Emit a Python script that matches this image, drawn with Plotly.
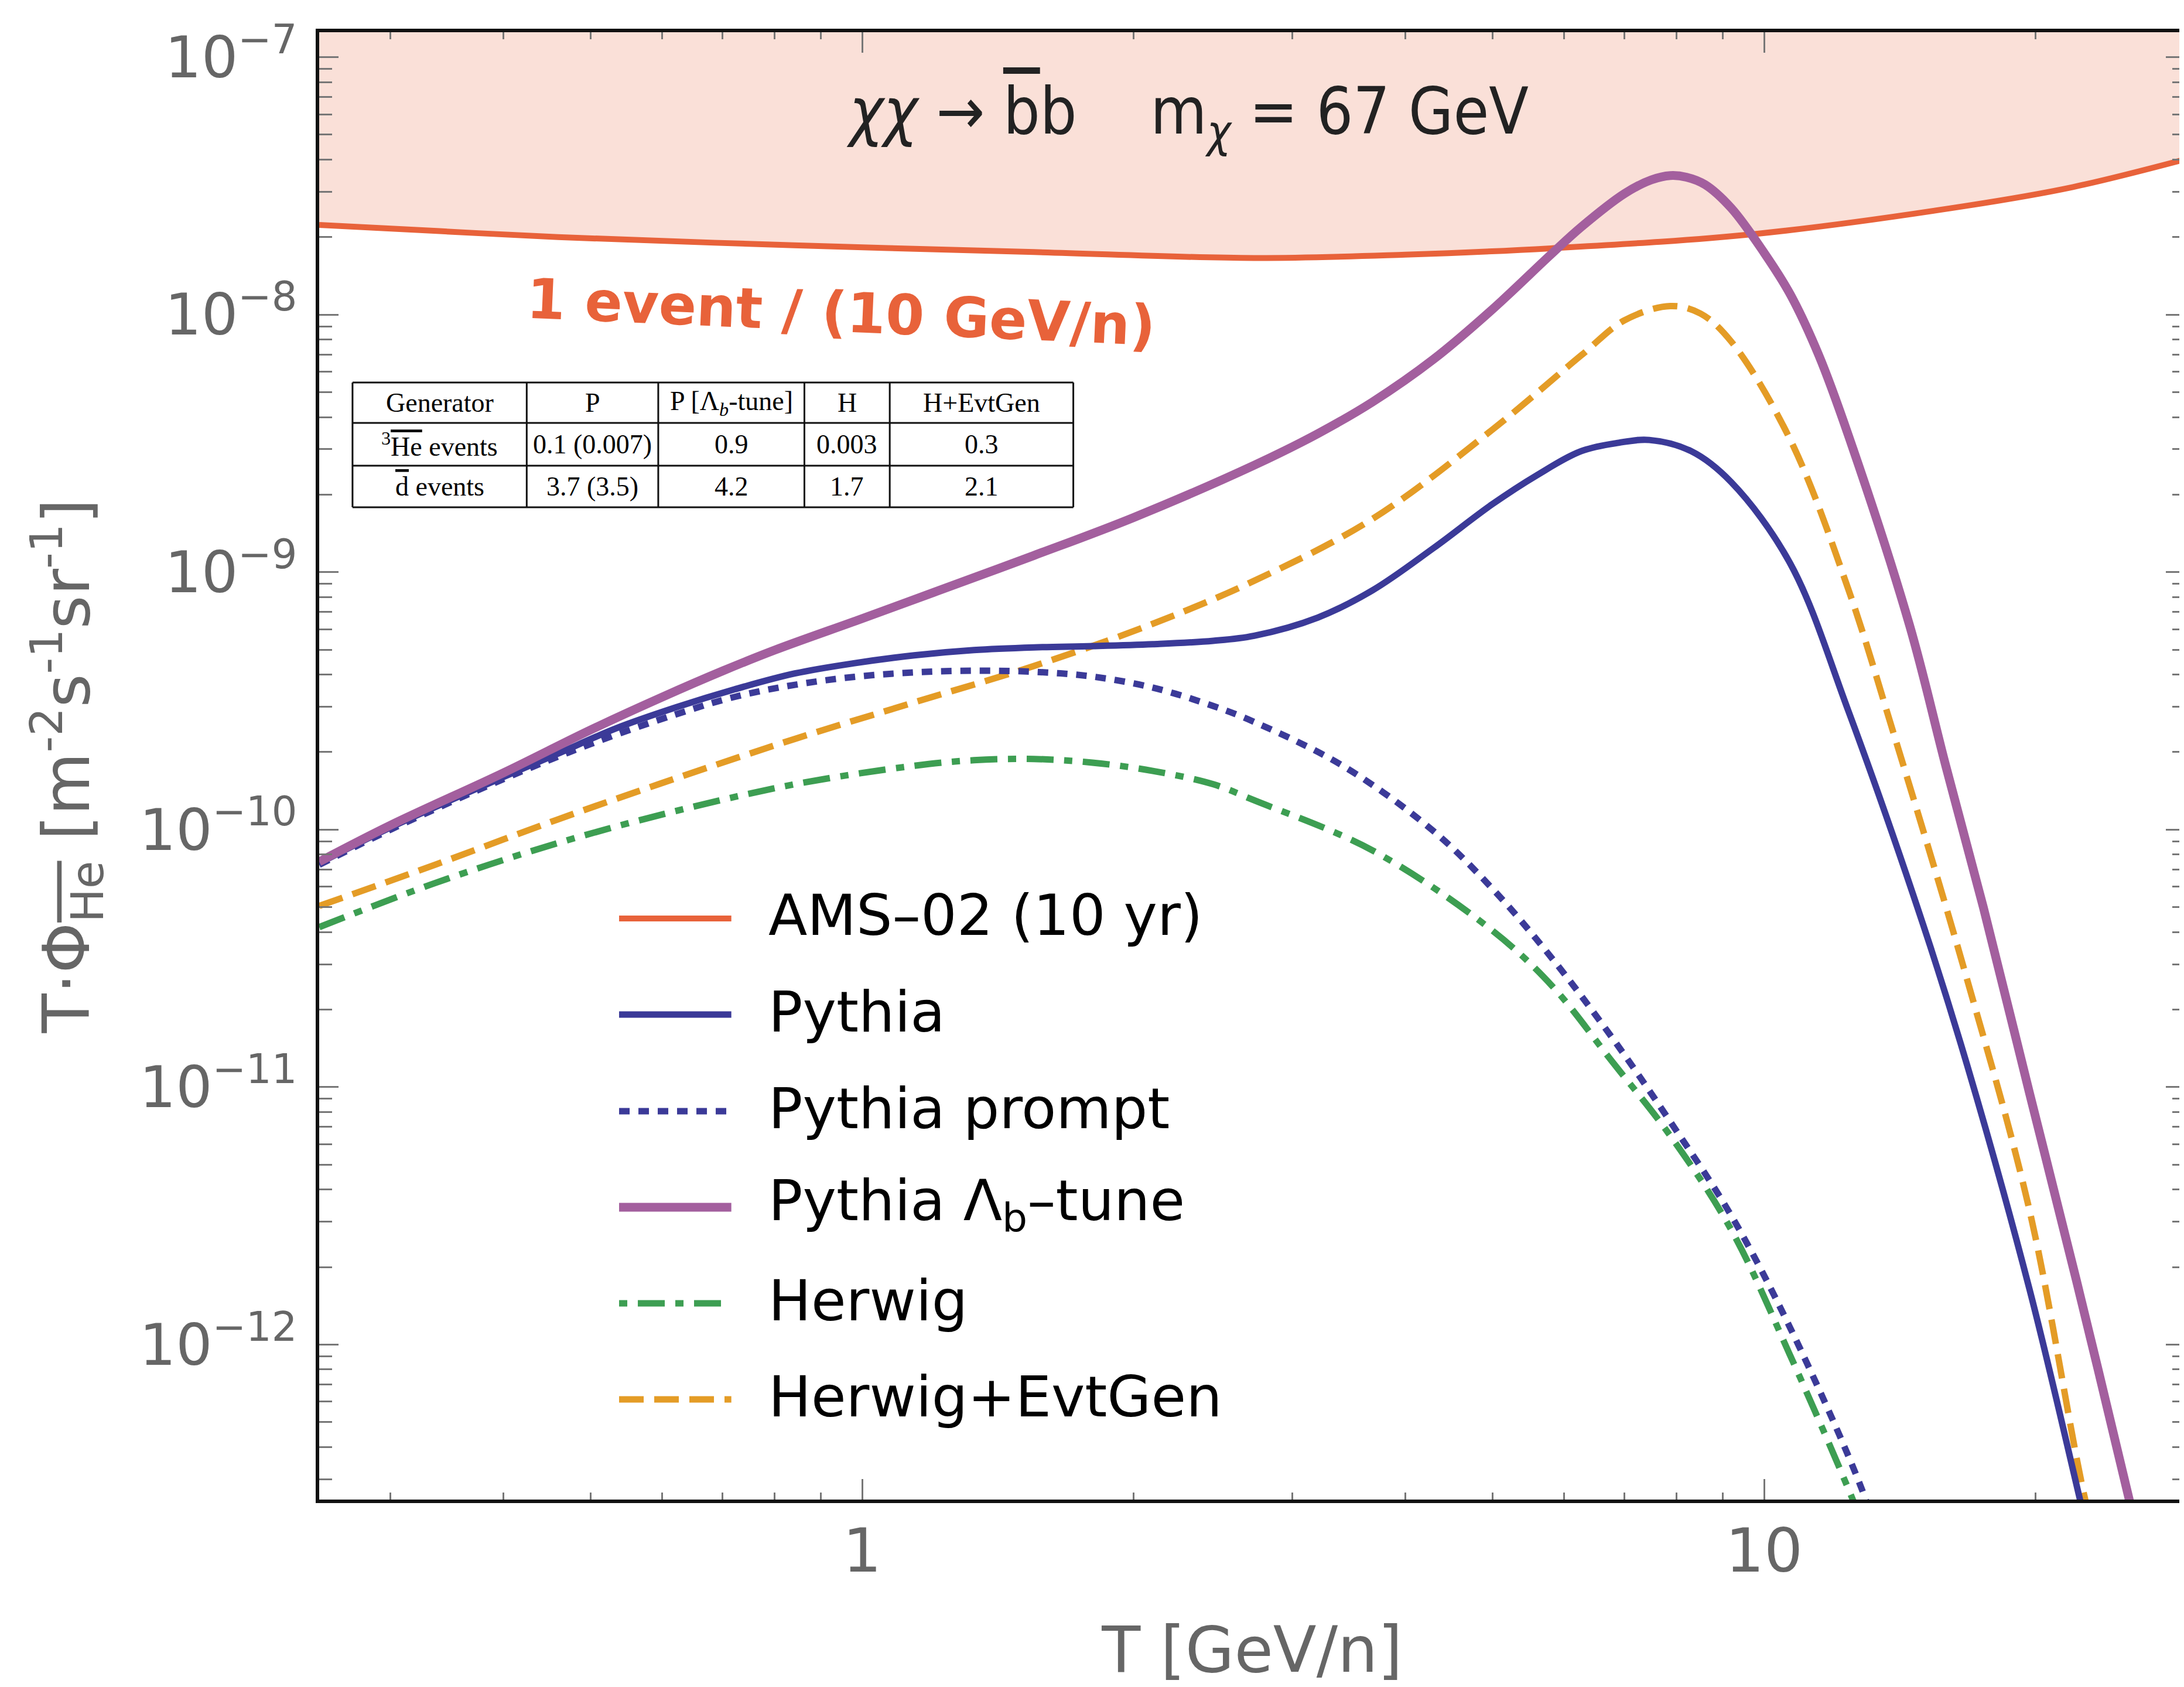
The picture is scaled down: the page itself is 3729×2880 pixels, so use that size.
import numpy as np
import plotly.graph_objects as go

# ---------------- data ----------------
ams_T = [0.25, 0.34, 0.46, 0.84, 1.55, 2.72, 4.0, 5.8, 9.8, 16.8, 22.0, 30.0]
ams_F = [2.23e-8, 2.11e-8, 2.0e-8, 1.86e-8, 1.75e-8, 1.66e-8, 1.71e-8, 1.81e-8,
         2.06e-8, 2.65e-8, 3.13e-8, 4.1e-8]

tune_T = [0.25, 0.3, 0.4, 0.5, 0.6, 0.7, 0.8, 1.0, 1.2, 1.55, 2.0, 2.72, 3.2, 3.68,
          4.3, 5.0, 5.8, 6.27, 7.0, 7.5, 7.87, 8.2, 8.6, 9.19, 10.0, 10.69, 11.5, 12.4,
          14.5, 15.9, 17.5, 19.7, 22.2, 25.4, 27.0]
tune_F = [7.5e-11, 1.04e-10, 1.66e-10, 2.44e-10, 3.27e-10, 4.13e-10, 4.98e-10,
          6.6e-10, 8.34e-10, 1.16e-9, 1.63e-9, 2.6e-9, 3.45e-9, 4.58e-9, 6.71e-9,
          1.05e-8, 1.71e-8, 2.19e-8, 2.95e-8, 3.34e-8, 3.47e-8, 3.42e-8, 3.2e-8,
          2.6e-8, 1.74e-8, 1.2e-8, 6.95e-9, 3.4e-9, 6.2e-10, 1.77e-10, 5.0e-11,
          9.42e-12, 1.77e-12, 2.5e-13, 1.0e-13]

pythia_T = [0.25, 0.3, 0.4, 0.458, 0.533, 0.621, 0.723, 0.842, 0.981, 1.142, 1.33,
            1.55, 1.80, 2.1, 2.45, 2.72, 3.2, 3.68, 4.3, 4.99, 5.6, 6.27, 6.9, 7.46,
            8.3, 9.19, 10.69, 12.4, 15.0, 16.8, 19.7, 22.4, 24.0]
pythia_F = [7.4e-11, 1.02e-10, 1.6e-10, 1.96e-10, 2.47e-10, 2.98e-10, 3.51e-10,
            4.04e-10, 4.43e-10, 4.75e-10, 4.98e-10, 5.1e-10, 5.16e-10, 5.25e-10,
            5.41e-10, 5.66e-10, 6.66e-10, 8.5e-10, 1.24e-9, 1.83e-9, 2.38e-9, 2.95e-9,
            3.18e-9, 3.26e-9, 2.95e-9, 2.24e-9, 1.08e-9, 2.89e-10, 4.3e-11,
            1.21e-11, 1.63e-12, 2.5e-13, 9e-14]

prompt_T = [0.25, 0.3, 0.4, 0.5, 0.621, 0.723, 0.842, 0.981, 1.142, 1.33, 1.55, 1.80,
            2.1, 2.45, 2.72, 3.41, 4.28, 4.99, 5.82, 6.78, 7.87, 9.19, 10.69, 12.8, 13.5]
prompt_F = [7.3e-11, 1.0e-10, 1.57e-10, 2.15e-10, 2.8e-10, 3.28e-10, 3.65e-10,
            3.92e-10, 4.08e-10, 4.14e-10, 4.1e-10, 3.93e-10, 3.56e-10, 3.02e-10,
            2.62e-10, 1.77e-10, 1.0e-10, 5.93e-11, 3.16e-11, 1.56e-11, 7.34e-12,
            3.18e-12, 1.16e-12, 2.81e-13, 1.6e-13]

herwig_T = [0.25, 0.337, 0.458, 0.621, 0.842, 1.142, 1.33, 1.55, 1.80, 2.1, 2.45,
            2.72, 3.68, 4.99, 5.82, 6.78, 7.87, 9.19, 10.69, 12.54, 13.0]
herwig_F = [4.18e-11, 6.22e-11, 8.83e-11, 1.18e-10, 1.5e-10, 1.77e-10, 1.86e-10,
            1.88e-10, 1.82e-10, 1.69e-10, 1.5e-10, 1.3e-10, 8.3e-11, 4.07e-11,
            2.47e-11, 1.26e-11, 6.47e-12, 2.8e-12, 9.06e-13, 2.5e-13, 1.8e-13]

evt_T = [0.25, 0.337, 0.458, 0.621, 0.842, 1.142, 1.55, 2.1, 2.72, 3.68, 4.99, 6.27,
         7.0, 7.87, 8.5, 9.19, 10.69, 12.4, 13.9, 16.8, 19.7, 22.7, 24.0]
evt_F = [5.05e-11, 7.33e-11, 1.09e-10, 1.58e-10, 2.25e-10, 3.12e-10, 4.32e-10,
         6.3e-10, 9.25e-10, 1.61e-9, 3.56e-9, 6.95e-9, 9.5e-9, 1.08e-8, 1.01e-8,
         7.88e-9, 3.27e-9, 8.57e-10, 2.4e-10, 2.6e-11, 3.3e-12, 2.5e-13, 1.2e-13]

series_names = ["AMS–02 (10 yr)", "Pythia", "Pythia prompt",
                "Pythia Λ<sub>b</sub>–tune", "Herwig", "Herwig+EvtGen"]

table_header = ["Generator", "P", "P [Λ<sub><i>b</i></sub>-tune]", "H", "H+EvtGen"]
table_row_labels = ["<sup>3</sup><span style='text-decoration:overline'>He</span> events",
                    "<span style='text-decoration:overline'>d</span> events"]
he3_events = ["0.1 (0.007)", "0.9", "0.003", "0.3"]
dbar_events = ["3.7 (3.5)", "4.2", "1.7", "2.1"]

x_tick_vals = [1, 10]
x_tick_text = ["1", "10"]
y_tick_exps = [-12, -11, -10, -9, -8, -7]

# ---------------- styling ----------------
W, H = 3729, 2880
L, R, TOP, BOT = 537, 3729, 47, 2552
X_RANGE = [0.25, 29.3]
Y_RANGE = [2.5e-13, 1.25e-7]
Y_CEIL = 1e-6

C_AMS = "#e8623a"
C_PY = "#3b3a98"
C_TUNE = "#a35f9e"
C_HW = "#3d9e52"
C_EVT = "#e49c26"
GREY = "#666666"
SMOOTH = 1.0


def px(xp):
    return (xp - L) / (R - L)


def py(yp):
    return (BOT - yp) / (BOT - TOP)


fig = go.Figure()

# shaded region above AMS sensitivity
fig.add_trace(go.Scatter(x=ams_T, y=[Y_CEIL] * len(ams_T), mode="lines",
                         line=dict(width=0, color="rgba(0,0,0,0)"),
                         showlegend=False, hoverinfo="skip"))
fig.add_trace(go.Scatter(x=ams_T, y=ams_F, mode="lines", name=series_names[0],
                         line=dict(color=C_AMS, width=10, shape="spline", smoothing=SMOOTH),
                         fill="tonexty", fillcolor="rgba(232,98,58,0.2)",
                         showlegend=False))

DOT = "18px,15px"
DASH = "42px,18px"
DASHDOT = "46px,18px,14px,18px"

fig.add_trace(go.Scatter(x=herwig_T, y=herwig_F, mode="lines", name=series_names[4],
                         line=dict(color=C_HW, width=11, dash=DASHDOT, shape="spline", smoothing=SMOOTH),
                         showlegend=False))
fig.add_trace(go.Scatter(x=evt_T, y=evt_F, mode="lines", name=series_names[5],
                         line=dict(color=C_EVT, width=11, dash=DASH, shape="spline", smoothing=SMOOTH),
                         showlegend=False))
fig.add_trace(go.Scatter(x=prompt_T, y=prompt_F, mode="lines", name=series_names[2],
                         line=dict(color=C_PY, width=11, dash=DOT, shape="spline", smoothing=SMOOTH),
                         showlegend=False))
fig.add_trace(go.Scatter(x=pythia_T, y=pythia_F, mode="lines", name=series_names[1],
                         line=dict(color=C_PY, width=11, shape="spline", smoothing=SMOOTH),
                         showlegend=False))
fig.add_trace(go.Scatter(x=tune_T, y=tune_F, mode="lines", name=series_names[3],
                         line=dict(color=C_TUNE, width=15, shape="spline", smoothing=SMOOTH),
                         showlegend=False))

# minor ticks
x_minor = [m * 10 ** e for e in (-1, 0, 1) for m in range(2, 10)]
x_minor = [v for v in x_minor if X_RANGE[0] <= v <= X_RANGE[1]]
y_minor = [m * 10 ** e for e in range(-13, -6) for m in range(2, 10)]
y_minor = [v for v in y_minor if Y_RANGE[0] <= v <= Y_RANGE[1]]

fig.update_xaxes(type="log", range=[np.log10(X_RANGE[0]), np.log10(X_RANGE[1])],
                 showline=True, linecolor="#111111", linewidth=6, mirror="allticks",
                 ticks="inside", ticklen=35, tickwidth=3, tickcolor="#777777",
                 tickmode="array", tickvals=x_tick_vals, ticktext=x_tick_text,
                 tickfont=dict(family="DejaVu Sans", size=104, color=GREY),
                 ticklabelstandoff=-8,
                 minor=dict(ticks="inside", ticklen=12, tickwidth=3, tickcolor="#777777",
                            tickmode="array", tickvals=x_minor, showgrid=False),
                 showgrid=False, zeroline=False,
                 title=dict(text="T [GeV/n]", font=dict(family="DejaVu Sans", size=108, color=GREY),
                            standoff=74))
fig.update_yaxes(type="log", range=[np.log10(Y_RANGE[0]), np.log10(Y_RANGE[1])],
                 showline=True, linecolor="#111111", linewidth=6, mirror="allticks",
                 ticks="inside", ticklen=33, tickwidth=3, tickcolor="#777777",
                 tickmode="array", tickvals=[10.0 ** e for e in y_tick_exps],
                 ticktext=["10<sup>−%d</sup>" % (-e) for e in y_tick_exps],
                 tickfont=dict(family="DejaVu Sans", size=98, color=GREY),
                 ticklabelstandoff=12,
                 minor=dict(ticks="inside", ticklen=22, tickwidth=3, tickcolor="#777777",
                            tickmode="array", tickvals=y_minor, showgrid=False),
                 showgrid=False, zeroline=False,
                 title=dict(text="T·Φ<sub><span style='text-decoration:overline'>He</span></sub>"
                                 " [m<sup>-2</sup>s<sup>-1</sup>sr<sup>-1</sup>]",
                            font=dict(family="DejaVu Sans", size=110, color=GREY),
                            standoff=50))

shapes = []
annotations = []

# ---------------- in-plot legend ----------------
legend_rows_px = [1555, 1719, 1884, 2048, 2212, 2376]
legend_styles = [(C_AMS, 10, "solid"), (C_PY, 11, "solid"), (C_PY, 11, DOT),
                 (C_TUNE, 15, "solid"), (C_HW, 11, "14px,18px,46px,18px"), (C_EVT, 11, DASH)]
for name, ypx, (col, wid, dsh) in zip(series_names, legend_rows_px, legend_styles):
    shapes.append(dict(type="line", xref="paper", yref="paper",
                       x0=px(1050), x1=px(1242), y0=py(ypx + 5), y1=py(ypx + 5),
                       line=dict(color=col, width=wid, dash=dsh)))
    annotations.append(dict(text=name, xref="paper", yref="paper", x=px(1303), y=py(ypx),
                            xanchor="left", yanchor="middle", showarrow=False,
                            font=dict(family="DejaVu Sans", size=97, color="black")))

# ---------------- table ----------------
col_edges = [594, 892, 1117, 1367, 1513, 1827]
row_edges = [645, 714, 787, 858]
for xe in col_edges:
    shapes.append(dict(type="line", xref="paper", yref="paper", x0=px(xe), x1=px(xe),
                       y0=py(row_edges[0]), y1=py(row_edges[-1]),
                       line=dict(color="#111111", width=3)))
for ye in row_edges:
    shapes.append(dict(type="line", xref="paper", yref="paper", x0=px(col_edges[0]),
                       x1=px(col_edges[-1]), y0=py(ye), y1=py(ye),
                       line=dict(color="#111111", width=3)))
table_rows = [table_header,
              [table_row_labels[0]] + he3_events,
              [table_row_labels[1]] + dbar_events]
for r, row in enumerate(table_rows):
    yc = (row_edges[r] + row_edges[r + 1]) / 2
    for c, txt in enumerate(row):
        xc = (col_edges[c] + col_edges[c + 1]) / 2
        annotations.append(dict(text=txt, xref="paper", yref="paper", x=px(xc), y=py(yc),
                                xanchor="center", yanchor="middle", showarrow=False,
                                font=dict(family="Liberation Serif", size=46, color="black")))

# ---------------- text labels ----------------
annotations.append(dict(
    text="<i>χχ</i> → <span style='text-decoration:overline'>b</span>b\u00a0\u00a0\u00a0\u00a0"
         "m<sub><i>χ</i></sub> = 67 GeV",
    xref="paper", yref="paper", x=px(2022), y=py(190), xanchor="center", yanchor="middle",
    showarrow=False, font=dict(family="Liberation Sans Narrow, DejaVu Sans Condensed, DejaVu Sans",
                               size=110, color="#222222")))
annotations.append(dict(
    text="<b>1 event / (10 GeV/n)</b>", xref="paper", yref="paper", x=px(1430), y=py(525),
    xanchor="center", yanchor="middle", showarrow=False, textangle=2.5,
    font=dict(family="DejaVu Sans", size=95, color=C_AMS)))

fig.update_layout(width=W, height=H, margin=dict(l=L, r=W - R, t=TOP, b=H - BOT),
                  paper_bgcolor="white", plot_bgcolor="white",
                  showlegend=False, shapes=shapes, annotations=annotations)

fig.write_html("out.html")
